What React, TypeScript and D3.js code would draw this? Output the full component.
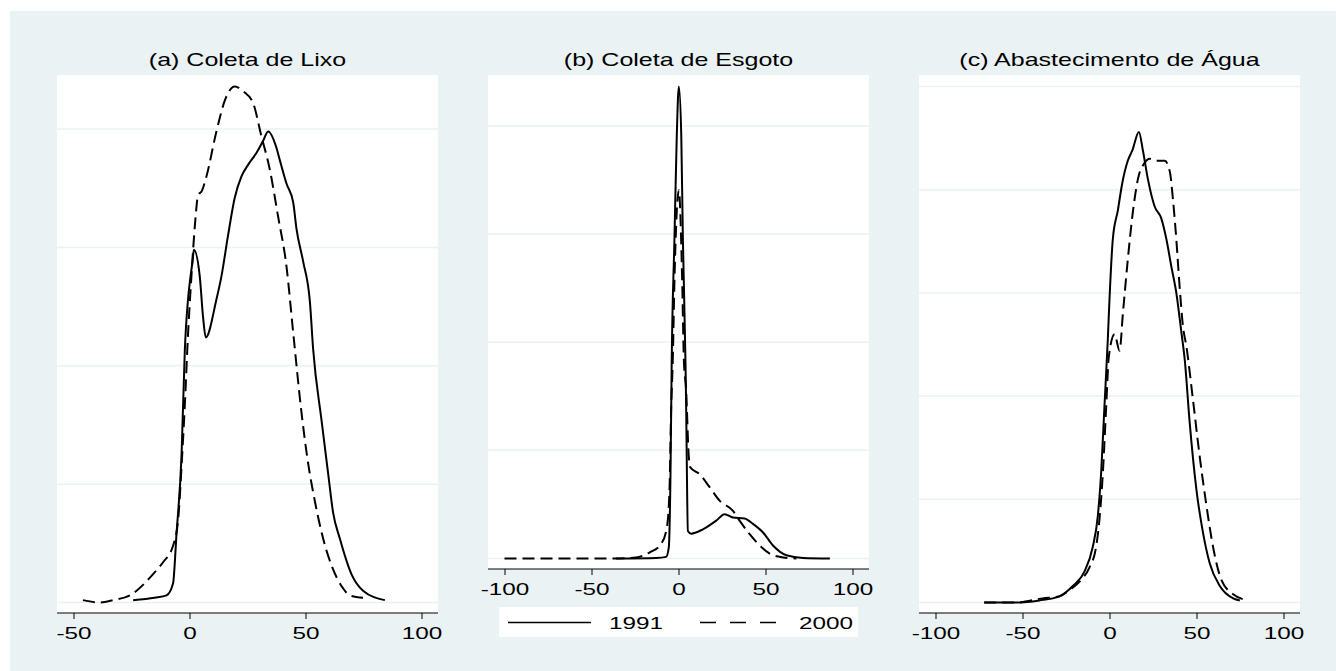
import React, { useEffect, useRef } from "react"
import * as d3 from "d3"

const titles = [ "(a) Coleta de Lixo", "(b) Coleta de Esgoto", "(c) Abastecimento de Água" ]
const years = [ "1991", "2000" ]

const lixoTicksX = [ -50, 0, 50, 100 ]
const esgotoTicksX = [ -100, -50, 0, 50, 100 ]
const aguaTicksX = [ -100, -50, 0, 50, 100 ]
const lixoTicksY = [ 0, 0.005, 0.01, 0.015, 0.02 ]
const esgotoTicksY = [ 0, 0.02, 0.04, 0.06, 0.08 ]
const aguaTicksY = [ 0, 0.005, 0.01, 0.015, 0.02, 0.025 ]

// (a) coleta de lixo
const lixoX1991 = [ -24.3, -15, -9.9, -7.1, -5.6, -3.4, -2.0, 1.4, 1.9, 4.4, 5.9, 7.0, 11.6, 13.8, 16.6, 19.5, 22.4, 25.3, 28.9, 31.7, 33.9, 37.5, 38.9, 41.8, 44.7, 46.1, 49.0, 51.9, 53.3, 56.9, 59.7, 61.9, 64.8, 69.8, 74.8, 84.2 ]
const lixoY1991 = [ 0.0001, 0.0002, 0.0003, 0.0008, 0.0029, 0.0063, 0.0107, 0.0145, 0.0149, 0.0138, 0.0120, 0.0112, 0.0128, 0.0138, 0.0155, 0.0171, 0.0180, 0.0185, 0.0190, 0.0195, 0.0199, 0.0192, 0.0187, 0.0177, 0.0169, 0.0158, 0.0144, 0.0127, 0.0107, 0.0077, 0.0055, 0.0038, 0.0027, 0.0012, 0.0005, 0.0001 ]
const lixoX2000 = [ -45.9, -38.7, -32.9, -25.7, -22.8, -15.7, -11.4, -7.1, -4.9, -3.4, -1.7, -0.9, 0.9, 2.3, 3.7, 5.4, 7.3, 11.6, 15.2, 19.5, 23.1, 27.4, 31.0, 34.6, 38.2, 41.8, 44.7, 48.3, 51.1, 54.0, 57.6, 61.9, 66.2, 69.1, 74.8 ]
const lixoY2000 = [ 0.0001, 0.0000, 0.0001, 0.0003, 0.0005, 0.0012, 0.0017, 0.0024, 0.0035, 0.0058, 0.0090, 0.0108, 0.0139, 0.0159, 0.0172, 0.0174, 0.0180, 0.0199, 0.0212, 0.0218, 0.0216, 0.0211, 0.0197, 0.0183, 0.0163, 0.0142, 0.0114, 0.0080, 0.0059, 0.0043, 0.0027, 0.0014, 0.0006, 0.0003, 0.0002 ]

// (b) coleta de esgoto
const esgotoX1991 = [ -35.9, -12.8, -7.1, -5.6, -4.6, -3.9, -2.3, -1.0, 0.2, 1.6, 2.5, 4.0, 4.4, 5.4, 7.3, 14.0, 21.7, 26.5, 31.3, 38.0, 42.8, 48.6, 54.3, 62.0, 71.6, 87.0 ]
const esgotoY1991 = [ 0, 0.0001, 0.0003, 0.0020, 0.0156, 0.0366, 0.0595, 0.0781, 0.0873, 0.0781, 0.0595, 0.0366, 0.0280, 0.0051, 0.0046, 0.0054, 0.0070, 0.0082, 0.0076, 0.0074, 0.0064, 0.0048, 0.0024, 0.0006, 0.0001, 0 ]
const esgotoX2000 = [ -100, -35.9, -24.4, -16.7, -10.0, -6.7, -5.2, -4.2, -3.3, -2.3, 0.2, 2.1, 3.1, 4.4, 5.8, 6.7, 12.1, 17.9, 23.6, 31.3, 35.1, 40.9, 46.7, 52.4, 60.1, 67.8 ]
const esgotoY2000 = [ 0, 0, 0.0002, 0.0011, 0.0027, 0.0057, 0.0125, 0.0280, 0.0366, 0.0517, 0.0681, 0.0517, 0.0366, 0.0311, 0.0194, 0.0169, 0.0156, 0.0132, 0.0107, 0.0088, 0.0070, 0.0045, 0.0024, 0.0009, 0.0002, 0 ]

// (c) abastecimento de agua
const aguaX1991 = [ -72, -53.8, -40.3, -28.8, -21.1, -14.4, -9.6, -6.7, -4.8, -2.9, -1.0, 0, 1.9, 4.8, 7.3, 10.5, 13.1, 16.9, 19.2, 22.1, 25.9, 29.8, 32.7, 35.5, 38.4, 41.3, 43.2, 46.1, 49.9, 53.7, 57.6, 63.4, 71.1, 74.9 ]
const aguaY1991 = [ 0.0000, 0.0000, 0.0001, 0.0003, 0.0008, 0.0015, 0.0027, 0.0042, 0.0063, 0.0095, 0.0127, 0.0147, 0.0176, 0.0190, 0.0203, 0.0214, 0.0219, 0.0228, 0.0219, 0.0205, 0.0192, 0.0186, 0.0176, 0.0163, 0.0150, 0.0131, 0.0118, 0.0087, 0.0055, 0.0034, 0.0019, 0.0008, 0.0002, 0.0001 ]
const aguaX2000 = [ -72, -53.8, -38.4, -28.8, -23.0, -16.3, -11.5, -7.7, -5.8, -3.8, -1.9, -0.4, 2.9, 5.8, 7.7, 10.5, 13.4, 16.3, 20.2, 23.0, 26.9, 31.7, 34.6, 36.5, 38.4, 40.3, 42.2, 44.2, 48.0, 51.8, 55.7, 59.5, 64.3, 71.1, 79.7 ]
const aguaY2000 = [ 0.0000, 0.0000, 0.0002, 0.0003, 0.0006, 0.0011, 0.0017, 0.0027, 0.0040, 0.0063, 0.0095, 0.0119, 0.0130, 0.0122, 0.0140, 0.0166, 0.0189, 0.0205, 0.0213, 0.0215, 0.0214, 0.0214, 0.0209, 0.0195, 0.0176, 0.0153, 0.0134, 0.0124, 0.0098, 0.0071, 0.0047, 0.0027, 0.0011, 0.0004, 0.0001 ]

const FONT = "'Liberation Sans', Arial, Helvetica, sans-serif"
const BG = "#eaf2f3"
// the source graph was stretched sideways, text included
const STRETCH = 1.43

export default function App() {
  const ref = useRef<SVGSVGElement>( null )

  useEffect( () => {
    const W = 1336
    const H = 671
    const svg = d3.select( ref.current )
    svg.selectAll( "*" ).remove()

    svg.append( "rect" ).attr( "width", W ).attr( "height", H ).attr( "fill", "#fff" )
    svg.append( "rect" )
      .attr( "x", 10 ).attr( "y", 11 )
      .attr( "width", W - 10 ).attr( "height", H - 11 )
      .attr( "fill", BG )

    const label = ( sel: any, x: number, y: number, size: number, txt: string ) =>
      sel.append( "text" )
        .attr( "transform", `translate(${ x },${ y }) scale(${ STRETCH },1)` )
        .attr( "text-anchor", "middle" )
        .style( "font-family", FONT )
        .style( "font-size", `${ size }px` )
        .text( txt )

    const panels = [
      { title: titles[ 0 ], left: 57, bottom: 613, ticksX: lixoTicksX, ticksY: lixoTicksY,
        series: [ [ lixoX1991, lixoY1991 ], [ lixoX2000, lixoY2000 ] ] },
      { title: titles[ 1 ], left: 488, bottom: 569, ticksX: esgotoTicksX, ticksY: esgotoTicksY,
        series: [ [ esgotoX1991, esgotoY1991 ], [ esgotoX2000, esgotoY2000 ] ] },
      { title: titles[ 2 ], left: 919, bottom: 613, ticksX: aguaTicksX, ticksY: aguaTicksY,
        series: [ [ aguaX1991, aguaY1991 ], [ aguaX2000, aguaY2000 ] ] }
    ]

    const plotW = 381
    const top = 75

    panels.forEach( p => {
      const right = p.left + plotW
      const allX = p.series.flatMap( s => s[ 0 ] )
      const allY = p.series.flatMap( s => s[ 1 ] )

      const xScale = d3
        .scaleLinear()
        .domain( [
          Math.min( p.ticksX[ 0 ], d3.min( allX ) as number ),
          Math.max( p.ticksX[ p.ticksX.length - 1 ], d3.max( allX ) as number )
        ] )
        .range( [ p.left + 16.5, right - 16.5 ] )

      const yScale = d3
        .scaleLinear()
        .domain( [ 0, Math.max( p.ticksY[ p.ticksY.length - 1 ], d3.max( allY ) as number ) ] )
        .range( [ p.bottom - 10.5, top + 11.5 ] )

      const g = svg.append( "g" )

      g.append( "rect" )
        .attr( "x", p.left ).attr( "y", top )
        .attr( "width", plotW ).attr( "height", p.bottom - top )
        .attr( "fill", "#fff" )

      // gridlines
      g.selectAll( "line.grid" )
        .data( p.ticksY )
        .enter()
        .append( "line" )
        .attr( "class", "grid" )
        .attr( "x1", p.left ).attr( "x2", right )
        .attr( "y1", d => yScale( d ) ).attr( "y2", d => yScale( d ) )
        .attr( "stroke", BG )
        .attr( "stroke-width", 1.5 )

      // x axis
      const axis = g.append( "g" )
        .attr( "transform", `translate(0,${ p.bottom })` )
        .call(
          d3.axisBottom( xScale )
            .tickValues( p.ticksX )
            .tickSize( 6 )
            .tickSizeOuter( 0 )
            .tickFormat( d => String( d ) )
        )
      axis.select( ".domain" ).remove()
      axis.selectAll( ".tick line" ).attr( "stroke", "#000" ).attr( "stroke-width", 1 )
      axis.selectAll( ".tick text" )
        .attr( "y", null ).attr( "dy", null )
        .attr( "transform", `translate(0,26) scale(${ STRETCH },1)` )
        .attr( "fill", "#000" )
        .style( "font-family", FONT )
        .style( "font-size", "17px" )
      axis.append( "line" )
        .attr( "x1", p.left ).attr( "x2", right )
        .attr( "y1", 0 ).attr( "y2", 0 )
        .attr( "stroke", "#000" ).attr( "stroke-width", 1 )

      // curves
      p.series.forEach( ( s, i ) => {
        const pts = s[ 0 ].map( ( xv, k ) => [ xv, s[ 1 ][ k ] ] as [ number, number ] )
        const line = d3
          .line<[ number, number ]>()
          .x( d => xScale( d[ 0 ] ) )
          .y( d => yScale( d[ 1 ] ) )
          .curve( d3.curveMonotoneX )
        g.append( "path" )
          .attr( "d", line( pts ) )
          .attr( "fill", "none" )
          .attr( "stroke", "#000" )
          .attr( "stroke-width", 2 )
          .attr( "stroke-linejoin", "round" )
          .attr( "stroke-dasharray", i === 1 ? "12,6" : null )
      } )

      label( g, p.left + plotW / 2, 66, 17.5, p.title )
    } )

    // legend
    const leg = svg.append( "g" )
    leg.append( "rect" )
      .attr( "x", 499 ).attr( "y", 607 )
      .attr( "width", 359 ).attr( "height", 30 )
      .attr( "fill", "#fff" )
    const keys = [ { x1: 508, x2: 591, tx: 636 }, { x1: 700, x2: 776, tx: 826 } ]
    keys.forEach( ( k, i ) => {
      leg.append( "line" )
        .attr( "x1", k.x1 ).attr( "x2", k.x2 )
        .attr( "y1", 622.5 ).attr( "y2", 622.5 )
        .attr( "stroke", "#000" )
        .attr( "stroke-width", 1.5 )
        .attr( "stroke-dasharray", i === 1 ? "16,14" : null )
      label( leg, k.tx, 629, 17, years[ i ] )
    } )
  }, [] )

  return (
    <svg
      ref={ ref }
      width={ 1336 }
      height={ 671 }
      style={ { position: "absolute", left: 0, top: 0, display: "block" } }
    />
  )
}
